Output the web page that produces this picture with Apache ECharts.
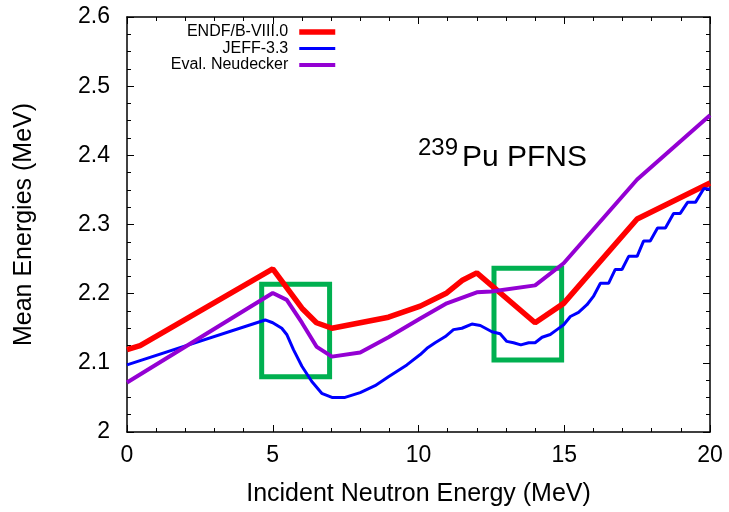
<!DOCTYPE html>
<html>
<head>
<meta charset="utf-8">
<script src="https://cdn.jsdelivr.net/npm/echarts@6.0.0/dist/echarts.min.js"></script>
<style>
  html, body { margin: 0; padding: 0; background: #fff; }
  #chart { width: 729px; height: 512px; }
</style>
</head>
<body>
<div id="chart"></div>
<script>
// ENDF/B-VIII.0
const endfX = [0, 0.45, 5, 6, 6.5, 7.03, 8, 8.97, 10.06, 10.97, 11.49, 12.0, 14.0, 14.98, 17.5, 20];
const endfY = [2.119, 2.125, 2.236, 2.179, 2.158, 2.150, 2.158, 2.166, 2.182, 2.201, 2.219, 2.230, 2.158, 2.186, 2.308, 2.360];
// JEFF-3.3
const jeffX = [0, 4.74, 5, 5.31, 5.48, 5.71, 6, 6.34, 6.68, 7.03, 7.48, 8, 8.51, 8.97, 9.6, 10.06, 10.29, 10.57, 10.92, 11.2,
  11.49, 11.83, 12.12, 12.52, 12.8, 13.03, 13.26, 13.51, 13.78, 14.0, 14.24, 14.52, 14.75, 14.98, 15.21, 15.49, 15.78, 16.0,
  16.24, 16.52, 16.75, 16.98, 17.21, 17.5, 17.72, 17.95, 18.2, 18.47, 18.75, 18.98, 19.23, 19.5, 19.79, 20];
const jeffY = [2.097, 2.162, 2.158, 2.150, 2.141, 2.119, 2.095, 2.073, 2.056, 2.050, 2.050, 2.057, 2.067, 2.080, 2.097, 2.112, 2.121, 2.129, 2.138, 2.148,
  2.150, 2.156, 2.154, 2.145, 2.142, 2.131, 2.129, 2.126, 2.129, 2.129, 2.137, 2.141, 2.148, 2.155, 2.167, 2.173, 2.184, 2.196,
  2.215, 2.215, 2.235, 2.235, 2.254, 2.254, 2.276, 2.276, 2.295, 2.295, 2.316, 2.316, 2.332, 2.332, 2.352, 2.351];
// Eval. Neudecker
const neuX = [0, 5, 5.48, 6, 6.51, 7.03, 8, 8.97, 10.06, 10.97, 12, 12.5, 14, 14.98, 17.5, 20];
const neuY = [2.0715, 2.201, 2.191, 2.158, 2.123, 2.109, 2.115, 2.137, 2.164, 2.186, 2.202, 2.203, 2.212, 2.244, 2.365, 2.458];

// highlighted regions [xFrom, xTo, yFrom, yTo]
const boxes = [
  [4.62, 6.95, 2.080, 2.2135],
  [12.59, 14.91, 2.104, 2.2366]
];

const seriesNames = ['ENDF/B-VIII.0', 'JEFF-3.3', 'Eval. Neudecker'];
const seriesColors = ['#ff0000', '#0000ff', '#9400d3'];
const seriesWidths = [5.5, 3, 4];
const xTicks = { min: 0, max: 20, interval: 5 };
const yTicks = { min: 2, max: 2.6, interval: 0.1 };

const FONT = 'Liberation Sans, Arial, Helvetica, sans-serif';
const pair = (xs, ys) => xs.map((x, i) => [x, ys[i]]);

const chart = echarts.init(document.getElementById('chart'));

const axisLine = { show: true, onZero: false, lineStyle: { color: '#000', width: 1.5 } };
const tick = { show: true, inside: true, length: 7, lineStyle: { color: '#000', width: 1 } };
const minorX = { show: true, splitNumber: 5, length: 4, lineStyle: { color: '#000', width: 1 } };
const minorY = { show: true, splitNumber: 4, length: 4, lineStyle: { color: '#000', width: 1 } };

const lineSeries = (i, xs, ys) => ({
  name: seriesNames[i], type: 'line', data: pair(xs, ys),
  symbol: 'none', color: seriesColors[i],
  lineStyle: { width: seriesWidths[i], color: seriesColors[i] }, z: 2 + i
});

const option = {
  animation: false,
  backgroundColor: '#fff',
  grid: { left: 127, right: 19, top: 17, bottom: 80, outerBoundsMode: 'none' },
  legend: {
    data: seriesNames.map((n, i) => ({
      name: n,
      lineStyle: { width: seriesWidths[i], color: seriesColors[i] },
      itemStyle: { opacity: 0 }
    })),
    orient: 'vertical',
    align: 'right',
    right: 391,
    top: 24,
    padding: 0,
    itemGap: 0.5,
    itemWidth: 36,
    itemHeight: 12,
    selectedMode: false,
    itemStyle: { opacity: 0 },
    textStyle: { fontFamily: FONT, fontSize: 16, color: '#000', padding: [0, 6, 0, 0] }
  },
  xAxis: [
    {
      type: 'value', position: 'bottom', ...xTicks,
      axisLine, axisTick: tick, minorTick: minorX,
      splitLine: { show: false },
      axisLabel: { margin: 12, fontSize: 23, color: '#000', fontFamily: FONT },
      name: 'Incident Neutron Energy (MeV)', nameLocation: 'middle', nameGap: 50,
      nameTextStyle: { fontSize: 25, color: '#000', fontFamily: FONT }
    },
    {
      type: 'value', position: 'top', ...xTicks,
      axisLine, axisTick: tick, minorTick: minorX,
      splitLine: { show: false }, axisLabel: { show: false }
    }
  ],
  yAxis: [
    {
      type: 'value', position: 'left', ...yTicks,
      axisLine, axisTick: tick, minorTick: minorY,
      splitLine: { show: false },
      axisLabel: {
        margin: 17, fontSize: 23, color: '#000', fontFamily: FONT,
        formatter: v => (Math.abs(v - 2) < 1e-9 ? '2' : v.toFixed(1))
      },
      name: 'Mean Energies (MeV)', nameLocation: 'middle', nameGap: 90,
      nameTextStyle: { fontSize: 25, color: '#000', fontFamily: FONT }
    },
    {
      type: 'value', position: 'right', ...yTicks,
      axisLine, axisTick: tick, minorTick: minorY,
      splitLine: { show: false }, axisLabel: { show: false }
    }
  ],
  series: [
    lineSeries(0, endfX, endfY),
    lineSeries(1, jeffX, jeffY),
    lineSeries(2, neuX, neuY),
    {
      name: 'boxes', type: 'line', data: [], z: 10, silent: true,
      markArea: {
        silent: true,
        itemStyle: { color: 'rgba(0,0,0,0)', borderColor: '#00b050', borderWidth: 5 },
        data: boxes.map(b => [{ xAxis: b[0], yAxis: b[2] }, { xAxis: b[1], yAxis: b[3] }])
      }
    }
  ],
  graphic: [
    { type: 'text', left: 418, top: 136, style: { text: '239', fontSize: 24, fontFamily: FONT, fill: '#000' } },
    { type: 'text', left: 462, top: 143, style: { text: 'Pu PFNS', fontSize: 30, fontFamily: FONT, fill: '#000' } }
  ]
};

chart.setOption(option);
</script>
</body>
</html>
